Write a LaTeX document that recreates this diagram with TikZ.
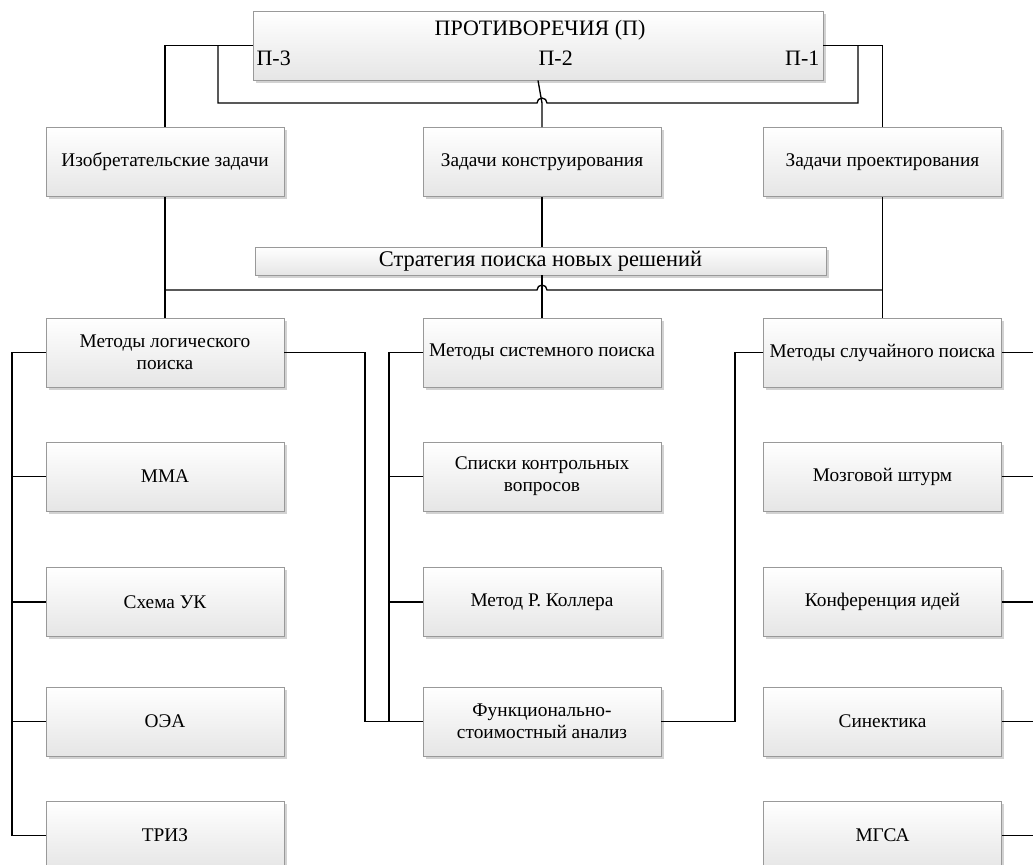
\documentclass[tikz,border=0pt]{standalone}
\usepackage{fontspec}
\setmainfont{Liberation Serif}
\usetikzlibrary{positioning}
\usetikzlibrary{shadows}
\tikzset{blok/.style={draw=gray!80, rectangle, top color=white, bottom color=gray!20,
    drop shadow={shadow xshift=2pt, shadow yshift=-2pt, fill=black!22, opacity=.8},
    minimum width=178.5pt, minimum height=52pt, inner sep=1pt, align=center,
    font=\fontsize{14.5}{16.5}\selectfont}}
\tikzset{tekst/.style={inner sep=1pt, font=\fontsize{16.5}{18}\selectfont}}
\tikzset{svyaz/.style={line width=1pt, black}}
\newcommand{\hop}{arc[start angle=180, end angle=0, radius=3.75pt]}

\begin{document}
\begin{tikzpicture}[x=0.75pt, y=-0.75pt]
\useasboundingbox (0,0) rectangle (1033,865);

\node[blok, minimum width=427.5pt] (protiv) at (538,45.5) {};
\node[tekst] (ptitle) at (540,30) {ПРОТИВОРЕЧИЯ (П)};
\node[tekst, anchor=west] (p3) at (255,58) {П-3};
\node[tekst, anchor=west] (p2) at (537,58) {П-2};
\node[tekst, anchor=east] (p1) at (821,58) {П-1};

\node[blok] (izobr) at (165,162) {Изобретательские задачи};
\node[blok] (konstr) at (542,162) {Задачи конструирования};
\node[blok] (proekt) at (882.5,162) {Задачи проектирования};

\node[blok, minimum width=428pt, minimum height=21pt,
      font=\fontsize{16.8}{18}\selectfont] (strat) at (540.5,261) {Стратегия поиска новых решений};

\node[blok] (logic) at (165,352.5) {Методы логического\\поиска};
\node[blok] (mma) at (165,476.5) {ММА};
\node[blok] (shema) at (165,602) {Схема УК};
\node[blok] (oea) at (165,721.5) {ОЭА};
\node[blok] (triz) at (165,835.5) {ТРИЗ};

\node[blok] (sist) at (542,352.5) {Методы системного поиска};
\node[blok] (spiski) at (542,476.5) {Списки контрольных\\вопросов};
\node[blok] (koller) at (542,602) {Метод Р. Коллера};
\node[blok] (fsa) at (542,721.5) {Функционально-\\стоимостный анализ};

\node[blok] (sluch) at (882.5,352.5) {Методы случайного поиска};
\node[blok] (mozg) at (882.5,476.5) {Мозговой штурм};
\node[blok] (konf) at (882.5,602) {Конференция идей};
\node[blok] (sinekt) at (882.5,721.5) {Синектика};
\node[blok] (mgsa) at (882.5,835.5) {МГСА};

\coordinate (b3) at (218,45.5);
\coordinate (b1) at (858,45.5);
\coordinate (hb) at (0,103);
\coordinate (hs) at (0,290);
\coordinate (lbus) at (12,0);
\coordinate (lx) at (365,0);
\coordinate (mx) at (389,0);
\coordinate (rx) at (735,0);
\coordinate (edge) at (1033,0);

% top level
\draw[svyaz] (protiv.west) -| (izobr.north);
\draw[svyaz] (protiv.east) -| (proekt.north);
\draw[svyaz] (protiv.south) -- (konstr.north |- hb) -- (konstr.north);
\draw[svyaz] (b3) |- ([xshift=-3.75pt]konstr.north |- hb) \hop -| (b1);

% strategy
\draw[svyaz] (konstr.south) -- (konstr.south |- strat.north);
\draw[svyaz] (konstr.south |- strat.south) -- (sist.north);
\draw[svyaz] (izobr.south) -- (logic.north);
\draw[svyaz] (proekt.south) -- (sluch.north);
\draw[svyaz] (izobr.south |- hs) -- ([xshift=-3.75pt]konstr.south |- hs) \hop -- (proekt.south |- hs);

% left column
\draw[svyaz] (logic.west) -| (lbus |- triz.west) -- (triz.west);
\foreach \n in {mma,shema,oea}
  \draw[svyaz] (\n.west) -- (lbus |- \n.west);
\draw[svyaz] (logic.east) -| (lx |- fsa.west) -- (fsa.west);

% middle column
\draw[svyaz] (sist.west) -| (mx |- fsa.west) -- (fsa.west);
\foreach \n in {spiski,koller}
  \draw[svyaz] (\n.west) -- (mx |- \n.west);

% right column
\draw[svyaz] (sluch.west) -| (rx |- fsa.east) -- (fsa.east);
\foreach \n in {sluch,mozg,konf,sinekt,mgsa}
  \draw[svyaz] (\n.east) -- (edge |- \n.east);
\end{tikzpicture}
\end{document}
